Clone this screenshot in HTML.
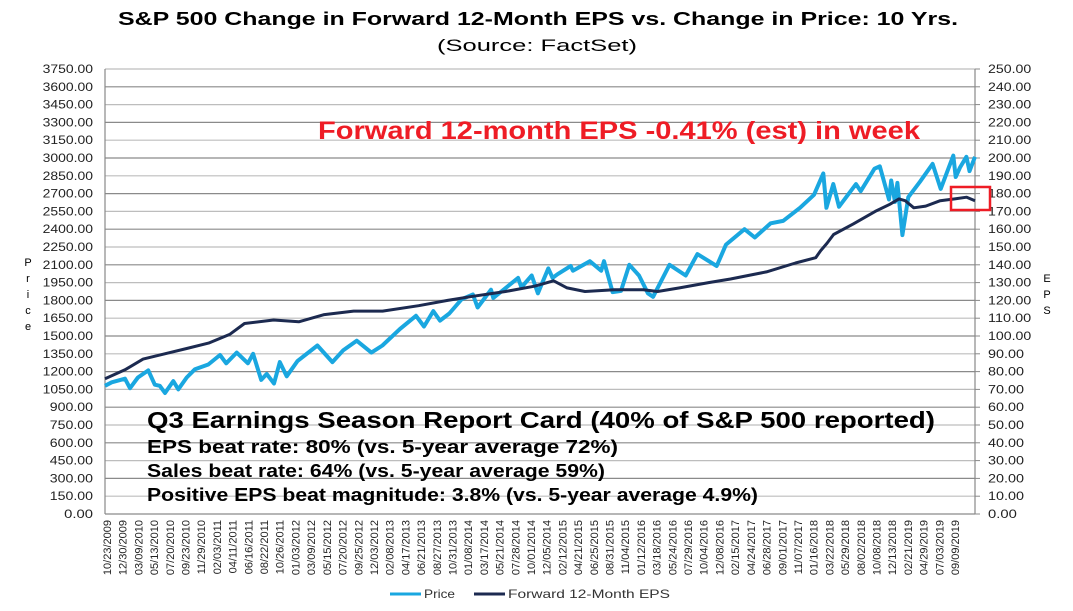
<!DOCTYPE html>
<html><head><meta charset="utf-8"><style>
body{margin:0;background:#fff;width:1073px;height:611px;overflow:hidden;font-family:"Liberation Sans",Arial,sans-serif}
svg{display:block}
</style></head><body>
<svg id="chart" width="1073" height="611" viewBox="0 0 1073 611" xmlns="http://www.w3.org/2000/svg" font-family="Liberation Sans, Arial, sans-serif">
<text x="118" y="25" font-size="18" font-weight="bold" textLength="840" lengthAdjust="spacingAndGlyphs">S&amp;P 500 Change in Forward 12-Month EPS vs. Change in Price: 10 Yrs.</text>
<text x="437" y="51" font-size="17" textLength="200" lengthAdjust="spacingAndGlyphs">(Source: FactSet)</text>
<g id="grid"></g>
<g id="yl"></g>
<g id="yr"></g>
<g id="xl"></g>
<g id="series"></g>
<text font-size="11" text-anchor="middle"><tspan x="28" y="266">P</tspan><tspan x="28" y="282">r</tspan><tspan x="28" y="298">i</tspan><tspan x="28" y="314">c</tspan><tspan x="28" y="330">e</tspan></text>
<text font-size="11" text-anchor="middle"><tspan x="1047" y="282">E</tspan><tspan x="1047" y="298">P</tspan><tspan x="1047" y="314">S</tspan></text>
<text x="318" y="139" font-size="25" font-weight="bold" fill="#ee1c25" textLength="602" lengthAdjust="spacingAndGlyphs">Forward 12-month EPS -0.41% (est) in week</text>
<rect x="951" y="187" width="39" height="23" fill="none" stroke="#ee1c25" stroke-width="2.5"/>
<g font-weight="bold">
<text x="147" y="428" font-size="23" textLength="788" lengthAdjust="spacingAndGlyphs">Q3 Earnings Season Report Card (40% of S&amp;P 500 reported)</text>
<text x="147" y="453" font-size="18" textLength="471" lengthAdjust="spacingAndGlyphs">EPS beat rate: 80% (vs. 5-year average 72%)</text>
<text x="147" y="477" font-size="18" textLength="458" lengthAdjust="spacingAndGlyphs">Sales beat rate: 64% (vs. 5-year average 59%)</text>
<text x="147" y="501" font-size="18" textLength="611" lengthAdjust="spacingAndGlyphs">Positive EPS beat magnitude: 3.8% (vs. 5-year average 4.9%)</text>
</g>
<g font-size="12" fill="#333">
<line x1="390" y1="594" x2="421" y2="594" stroke="#1aa7e0" stroke-width="3"/>
<text x="424" y="598" textLength="31" lengthAdjust="spacingAndGlyphs">Price</text>
<line x1="474" y1="594" x2="505" y2="594" stroke="#1c2a50" stroke-width="3"/>
<text x="508" y="598" textLength="162" lengthAdjust="spacingAndGlyphs">Forward 12-Month EPS</text>
</g>
</svg>
<script>
const xLabels=["10/23/2009","12/30/2009","03/09/2010","05/13/2010","07/20/2010","09/23/2010","11/29/2010","02/03/2011","04/11/2011","06/16/2011","08/22/2011","10/26/2011","01/03/2012","03/09/2012","05/15/2012","07/20/2012","09/25/2012","12/03/2012","02/08/2013","04/17/2013","06/21/2013","08/27/2013","10/31/2013","01/08/2014","03/17/2014","05/21/2014","07/28/2014","10/01/2014","12/05/2014","02/12/2015","04/21/2015","06/25/2015","08/31/2015","11/04/2015","01/12/2016","03/18/2016","05/24/2016","07/29/2016","10/04/2016","12/08/2016","02/15/2017","04/24/2017","06/28/2017","09/01/2017","11/07/2017","01/16/2018","03/22/2018","05/29/2018","08/02/2018","10/08/2018","12/13/2018","02/21/2019","04/29/2019","07/03/2019","09/09/2019"];
const leftTicks=[0,150,300,450,600,750,900,1050,1200,1350,1500,1650,1800,1950,2100,2250,2400,2550,2700,2850,3000,3150,3300,3450,3600,3750];
const rightTicks=[0,10,20,30,40,50,60,70,80,90,100,110,120,130,140,150,160,170,180,190,200,210,220,230,240,250];
const priceDates=["2009-10-23","2009-11-20","2010-01-15","2010-02-05","2010-03-10","2010-04-23","2010-05-20","2010-06-10","2010-07-02","2010-08-06","2010-08-27","2010-10-01","2010-11-05","2010-12-31","2011-02-18","2011-03-16","2011-04-29","2011-06-15","2011-07-07","2011-08-10","2011-09-02","2011-10-03","2011-10-27","2011-11-25","2012-01-10","2012-04-02","2012-06-04","2012-07-20","2012-09-14","2012-11-15","2012-12-31","2013-03-15","2013-05-21","2013-06-24","2013-08-02","2013-08-30","2013-10-08","2013-11-29","2014-01-15","2014-02-04","2014-04-01","2014-04-11","2014-07-24","2014-08-07","2014-09-19","2014-10-15","2014-11-28","2014-12-16","2015-01-05","2015-03-02","2015-03-11","2015-05-21","2015-07-08","2015-07-20","2015-08-25","2015-09-29","2015-11-03","2015-12-14","2016-01-20","2016-02-11","2016-04-20","2016-06-27","2016-08-15","2016-11-04","2016-12-13","2017-03-01","2017-04-13","2017-06-19","2017-08-10","2017-10-20","2017-12-18","2018-01-26","2018-02-08","2018-03-09","2018-04-02","2018-06-12","2018-07-02","2018-08-29","2018-09-20","2018-10-29","2018-11-07","2018-11-23","2018-12-03","2018-12-24","2019-01-18","2019-03-08","2019-04-30","2019-06-03","2019-07-26","2019-08-05","2019-08-23","2019-09-19","2019-10-02","2019-10-25"];
const priceValues=[1080,1110,1140,1060,1150,1210,1090,1080,1020,1120,1050,1150,1220,1260,1340,1270,1360,1270,1350,1130,1180,1100,1280,1160,1290,1420,1280,1380,1460,1360,1420,1560,1670,1580,1710,1630,1690,1810,1850,1740,1890,1820,1990,1910,2010,1860,2070,1990,2020,2090,2050,2130,2050,2130,1870,1880,2100,2010,1860,1830,2100,2010,2190,2090,2270,2400,2330,2450,2470,2580,2690,2870,2580,2780,2590,2780,2720,2910,2930,2650,2810,2630,2790,2350,2670,2800,2950,2740,3020,2840,2920,3010,2890,3010];
const epsDates=["2009-10-23","2010-01-15","2010-04-01","2010-07-01","2010-10-01","2011-01-01","2011-04-01","2011-06-01","2011-10-01","2012-01-15","2012-05-01","2012-09-01","2013-01-01","2013-06-01","2013-10-01","2014-01-01","2014-06-01","2014-10-01","2014-12-20","2015-02-15","2015-05-01","2015-09-01","2016-01-01","2016-03-01","2016-06-01","2016-10-01","2017-01-01","2017-06-01","2017-10-01","2017-12-25","2018-01-15","2018-02-10","2018-03-10","2018-06-01","2018-09-01","2018-11-01","2018-12-10","2019-01-05","2019-02-10","2019-04-01","2019-06-01","2019-08-01","2019-09-20","2019-10-25"];
const epsValues=[76,81,87,90,93,96,101,107,109,108,112,114,114,117,120,122,125,128,131,127,125,126,126,125,127,130,132,136,141,144,148,152,157,163,170,174,177,176,172,173,176,177,178,176];
const X0=105,X1=975,YT=69,YB=514;
const tStart=Date.parse("2009-10-23"),tEnd=Date.parse("2019-10-25");
const xs=d=>X0+(Date.parse(d)-tStart)/(tEnd-tStart)*(X1-X0);
const yL=v=>YB-v/3750*(YB-YT);
const yR=v=>YB-v/250*(YB-YT);
const NS="http://www.w3.org/2000/svg";
function mk(tag,attrs,parent){const e=document.createElementNS(NS,tag);for(const k in attrs)e.setAttribute(k,attrs[k]);parent.appendChild(e);return e;}
const grid=document.getElementById('grid'),yl=document.getElementById('yl'),yr=document.getElementById('yr'),xl=document.getElementById('xl'),ser=document.getElementById('series');
leftTicks.forEach((v,i)=>{
 const y=yL(v);
 const g=mk('line',{x1:X0,x2:X1,y1:y,y2:y,stroke:i%2?'#bdbdbd':'#8a8a8a','stroke-width':1.2},grid);
 
 
 const s=v.toFixed(2);
 const t=mk('text',{x:93-s.length*7.2,y:y+4,'font-size':12,fill:'#222',textLength:s.length*7.2,lengthAdjust:'spacingAndGlyphs'},yl);
 
 
 t.textContent=s;
});
rightTicks.forEach(v=>{
 const y=yR(v);
 const tk=mk('line',{x1:X1,x2:X1+5,y1:y,y2:y,stroke:'#888'},yr);
 
 
 const s=v.toFixed(2);
 const t=mk('text',{x:988,y:y+4,'font-size':12,fill:'#222',textLength:s.length*7.2,lengthAdjust:'spacingAndGlyphs'},yr);
 
 
 t.textContent=s;
});
const la=mk('line',{x1:X0,x2:X0,y1:YT,y2:YB,stroke:'#888','stroke-width':1.2},grid);


const ra=mk('line',{x1:X1,x2:X1,y1:YT,y2:YB,stroke:'#888','stroke-width':1.2},grid);


const n=xLabels.length;
xLabels.forEach((s,i)=>{
 const x=107+i*(955-107)/(n-1);
 const t=mk('text',{transform:`translate(${x+4},520) rotate(-90)`,'text-anchor':'end','font-size':11,fill:'#222'},xl);
 
 
 t.textContent=s;
});
const pp=mk('polyline',{points:priceDates.map((d,i)=>xs(d).toFixed(1)+','+yL(priceValues[i]).toFixed(1)).join(' '),fill:'none',stroke:'#1aa7e0','stroke-width':4,'stroke-linejoin':'round'},ser);


const ep=mk('polyline',{points:epsDates.map((d,i)=>xs(d).toFixed(1)+','+yR(epsValues[i]).toFixed(1)).join(' '),fill:'none',stroke:'#1c2a50','stroke-width':3,'stroke-linejoin':'round'},ser);


</script>
</body></html>
